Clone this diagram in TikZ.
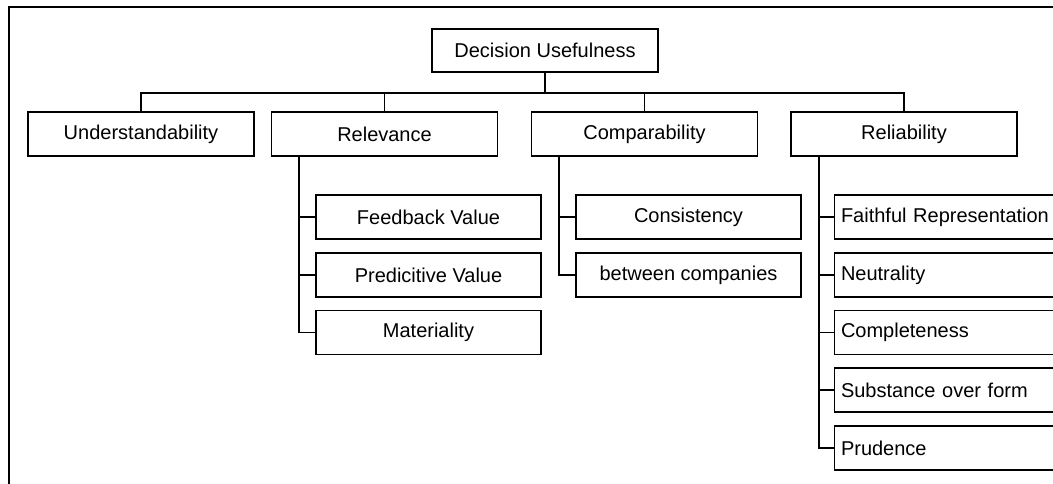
\documentclass[tikz,border=0pt]{standalone}
\usepackage{fontspec}
\setmainfont{Liberation Sans}
\begin{document}
\begin{tikzpicture}[x=1pt,y=-1pt,
  box/.style={draw=black, line width=1.4pt, fill=white, minimum width=226pt,
    minimum height=44pt, inner sep=0pt, font=\fontsize{20}{24}\selectfont},
  leftbox/.style={box, text width=213pt, inner xsep=6pt, align=left},
  link/.style={draw=black, line width=1.2pt},
  frame/.style={draw=black, line width=2pt}]
\useasboundingbox (0,0) rectangle (1053,483);
\clip (0,0) rectangle (1053,483);
\fill[white] (0,0) rectangle (1053,483);
% outer frame (runs past the page on the right and bottom)
\draw[frame] (9,500) -- (9,7) -- (1070,7);

% root
\node[box, minimum height=43pt] (du) at (545,50.5) {Decision Usefulness};

% first level
\node[box] (und)   at (141,134)   {Understandability};
\node[box] (rel)   at (384.5,134) {Relevance};
\node[box] (comp)  at (644.5,134) {Comparability};
\node[box] (relia) at (904,134)   {Reliability};

% relevance
\node[box, minimum width=225pt] (fb)  at (428.5,217)   {Feedback Value};
\node[box, minimum width=225pt] (pv)  at (428.5,275)   {Predicitive Value};
\node[box, minimum width=225pt] (mat) at (428.5,332.5) {Materiality};

% comparability
\node[box, minimum width=225pt] (cons) at (688.5,217) {Consistency};
\node[box, minimum width=225pt] (btw)  at (688.5,275) {between companies};

% reliability
\node[leftbox] (fr)  at (947.5,217)   {Faithful Representation};
\node[leftbox] (neu) at (947.5,275)   {Neutrality};
\node[leftbox] (cpl) at (947.5,332.5) {Completeness};
\node[leftbox] (sub) at (947.5,390)   {Substance over form};
\node[leftbox] (pru) at (947.5,448)   {Prudence};

% bus under the root
\coordinate (bus) at (0,93);
\draw[link] (du.south) -- (du.south |- bus);
\draw[link] (und.north) -- (und.north |- bus) -- (relia.north |- bus) -- (relia.north);
\draw[link] (rel.north) -- (rel.north |- bus);
\draw[link] (comp.north) -- (comp.north |- bus);

% trunks
\coordinate (rtrunk) at (299,156);
\coordinate (ctrunk) at (559,156);
\coordinate (ltrunk) at (819,156);

\draw[link] (rtrunk) |- (mat.west);
\draw[link] (rtrunk |- fb.west) -- (fb.west);
\draw[link] (rtrunk |- pv.west) -- (pv.west);

\draw[link] (ctrunk) |- (btw.west);
\draw[link] (ctrunk |- cons.west) -- (cons.west);

\draw[link] (ltrunk) |- (pru.west);
\draw[link] (ltrunk |- fr.west) -- (fr.west);
\draw[link] (ltrunk |- neu.west) -- (neu.west);
\draw[link] (ltrunk |- cpl.west) -- (cpl.west);
\draw[link] (ltrunk |- sub.west) -- (sub.west);
\end{tikzpicture}
\end{document}
